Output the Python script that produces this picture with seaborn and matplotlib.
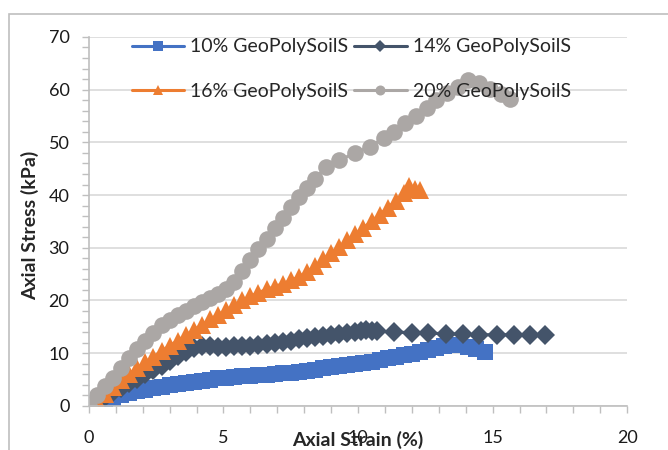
"""Axial stress vs axial strain for four GeoPolySoilS contents."""
import pandas as pd
import seaborn as sns
import matplotlib.pyplot as plt
import matplotlib.patches as mpatches

sns.set_style("white")
plt.rcParams["font.family"] = ["Lato", "DejaVu Sans"]


############################## Data.

SERIES = ["10% GeoPolySoilS", "14% GeoPolySoilS", "16% GeoPolySoilS", "20% GeoPolySoilS"]

strain_10 = [0.0, 0.3, 0.6, 0.9, 1.2, 1.5, 1.8, 2.1, 2.4, 2.7, 3.0, 3.3, 3.6, 3.9,
             4.2, 4.5, 4.8, 5.1, 5.4, 5.7, 6.0, 6.3, 6.6, 6.9, 7.2, 7.5, 7.8, 8.1,
             8.4, 8.7, 9.0, 9.3, 9.6, 9.9, 10.2, 10.5, 10.8, 11.1, 11.4, 11.7, 12.0,
             12.3, 12.6, 12.9, 13.2, 13.5, 13.8, 14.1, 14.4, 14.7]
stress_10 = [0.0, 0.5, 1.0, 1.5, 2.0, 2.4, 2.8, 3.1, 3.4, 3.6, 3.9, 4.1, 4.3, 4.6,
             4.8, 5.0, 5.2, 5.3, 5.4, 5.6, 5.7, 5.8, 5.9, 6.0, 6.2, 6.3, 6.5, 6.7,
             6.9, 7.1, 7.3, 7.5, 7.8, 8.0, 8.2, 8.4, 8.7, 9.0, 9.3, 9.6, 9.9,
             10.2, 10.6, 11.0, 11.3, 11.6, 11.5, 11.1, 10.7, 10.3]

strain_14 = [0.0, 0.3, 0.6, 0.9, 1.2, 1.5, 1.8, 2.1, 2.4, 2.7, 3.0, 3.3, 3.6, 3.9,
             4.2, 4.5, 4.8, 5.1, 5.4, 5.7, 6.0, 6.3, 6.6, 6.9, 7.2, 7.5, 7.8, 8.1,
             8.4, 8.7, 9.0, 9.3, 9.6, 9.9, 10.1, 10.3, 10.5, 10.7, 11.35, 12.0,
             12.6, 13.25, 13.9, 14.5, 15.15, 15.8, 16.4, 16.95]
stress_14 = [0.0, 0.8, 1.7, 2.6, 3.4, 4.3, 5.1, 6.0, 6.8, 7.6, 8.5, 9.4, 10.3, 11.0,
             11.3, 11.3, 11.2, 11.2, 11.3, 11.3, 11.4, 11.6, 11.8, 12.0, 12.2, 12.4,
             12.6, 12.9, 13.1, 13.3, 13.5, 13.7, 13.9, 14.1, 14.3, 14.4, 14.3, 14.2,
             14.0, 13.9, 13.8, 13.7, 13.6, 13.5, 13.5, 13.5, 13.5, 13.5]

strain_16 = [0.0, 0.3, 0.6, 0.9, 1.2, 1.5, 1.8, 2.1, 2.4, 2.7, 3.0, 3.3, 3.6, 3.9,
             4.2, 4.5, 4.8, 5.1, 5.4, 5.7, 6.0, 6.3, 6.6, 6.9, 7.2, 7.5, 7.8, 8.1,
             8.4, 8.7, 9.0, 9.3, 9.6, 9.9, 10.2, 10.5, 10.8, 11.1, 11.4, 11.7,
             11.9, 12.1, 12.3]
stress_16 = [0.0, 1.0, 2.2, 3.6, 4.9, 6.1, 7.2, 8.3, 9.3, 10.4, 11.4, 12.4, 13.4,
             14.4, 15.4, 16.4, 17.3, 18.2, 19.1, 20.0, 20.8, 21.5, 22.1, 22.6, 23.2,
             23.8, 24.5, 25.4, 26.5, 27.8, 29.0, 30.2, 31.4, 32.6, 33.8, 35.0, 36.3,
             37.6, 38.9, 40.4, 41.8, 41.2, 40.9]

strain_20 = [0.0, 0.3, 0.6, 0.9, 1.2, 1.5, 1.8, 2.1, 2.4, 2.7, 3.0, 3.3, 3.6, 3.9,
             4.2, 4.5, 4.8, 5.1, 5.4, 5.7, 6.0, 6.3, 6.6, 6.9, 7.2, 7.5, 7.8, 8.1,
             8.4, 8.8, 9.3, 9.9, 10.45, 10.95, 11.35, 11.75, 12.15, 12.55, 12.9,
             13.3, 13.7, 14.1, 14.5, 14.9, 15.3, 15.65]
stress_20 = [0.0, 2.0, 3.8, 5.2, 7.2, 9.0, 10.8, 12.4, 13.9, 15.3, 16.3, 17.2, 18.0,
             18.9, 19.7, 20.5, 21.3, 22.2, 23.5, 25.5, 27.7, 29.8, 31.7, 33.7, 35.7,
             37.7, 39.6, 41.3, 43.0, 45.3, 46.6, 48.0, 49.2, 50.8, 52.0, 53.6, 55.0,
             56.5, 58.0, 59.3, 60.5, 61.9, 61.3, 60.1, 59.1, 58.2]

strains = [strain_10, strain_14, strain_16, strain_20]
stresses = [stress_10, stress_14, stress_16, stress_20]

df = pd.concat([pd.DataFrame({"strain": x, "stress": y, "mix": name})
                for name, x, y in zip(SERIES, strains, stresses)], ignore_index=True)


############################## Plot it.

COLORS = ["#4472C4", "#44546A", "#ED7D31", "#ABA7A5"]
MARKERS = ["s", "D", "^", "o"]
MSIZES = [11.5, 10, 12.5, 12]

fig = plt.figure(figsize=(6.68, 4.5), dpi=100)
ax = fig.add_axes([0.133, 0.098, 0.806, 0.820])

for name, color, marker, ms in zip(SERIES, COLORS, MARKERS, MSIZES):
    sns.lineplot(data=df[df["mix"] == name], x="strain", y="stress",
                 sort=False, estimator=None, color=color, label=name,
                 marker=marker, markersize=ms, markeredgewidth=0,
                 linewidth=2.2, ax=ax)

# a e s t h e t i c s
AXIS_COLOR = "#BFBFBF"
GRID_COLOR = "#D9D9D9"
ax.set_xlim(0, 20)
ax.set_ylim(0, 70)
ax.xaxis.set(major_locator=plt.MultipleLocator(5), minor_locator=plt.MultipleLocator(1))
ax.yaxis.set(major_locator=plt.MultipleLocator(10), minor_locator=plt.MultipleLocator(2))
ax.grid(which="major", axis="y", color=GRID_COLOR, linewidth=1.2)
ax.grid(which="both", axis="x", visible=False)
ax.set_axisbelow(True)
for side in ["top", "right"]:
    ax.spines[side].set_visible(False)
for side in ["left", "bottom"]:
    ax.spines[side].set_color(AXIS_COLOR)
    ax.spines[side].set_linewidth(1.2)
ax.tick_params(which="both", color=AXIS_COLOR, width=1, length=5, direction="out",
               bottom=True, left=True)
ax.tick_params(axis="x", which="major", pad=12, labelsize=13, labelcolor="#1a1a1a")
ax.tick_params(axis="y", which="major", pad=9, labelsize=13, labelcolor="#1a1a1a")

ax.set_xlabel("Axial Strain (%)", fontsize=14, fontweight="bold")
ax.set_ylabel("Axial Stress (kPa)", fontsize=14, fontweight="bold")
ax.xaxis.set_label_coords(0.5, -0.068)
ax.yaxis.set_label_coords(-0.092, 0.49)

# Legend rows: 10% | 14% on top, 16% | 20% below (legend fills by column).
handles, labels = ax.get_legend_handles_labels()
order = [0, 2, 1, 3]
ax.legend([handles[i] for i in order], [labels[i] for i in order],
          loc="upper left", bbox_to_anchor=(0.08, 0.996), ncol=2,
          frameon=False, fontsize=14, markerscale=0.6,
          borderpad=0, borderaxespad=0,
          handlelength=2.7, handletextpad=0.3, columnspacing=0.3,
          labelspacing=1.4)

# Chart-area border (Excel style), running off the right/bottom of the picture.
fig.patches.append(mpatches.Rectangle((0.0135, -0.5), 2.0, 0.969 + 0.5,
                                      transform=fig.transFigure, fill=False,
                                      edgecolor="#BFBFBF", linewidth=1.2))

plt.savefig("out.png", dpi=100)
plt.close()
